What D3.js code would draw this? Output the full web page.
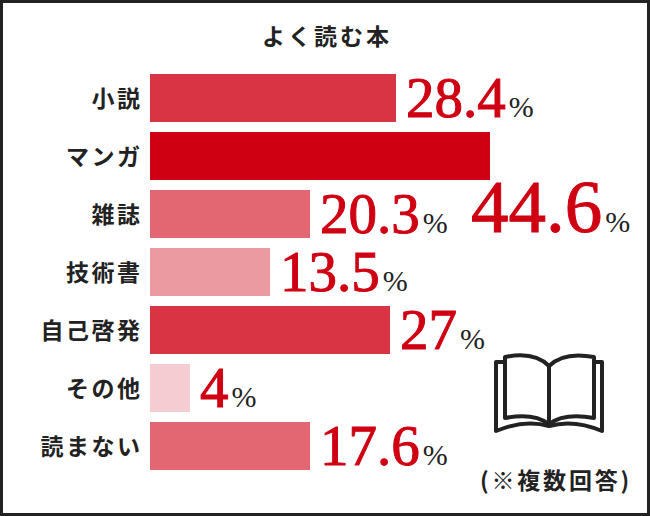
<!DOCTYPE html>
<html lang="ja">
<head>
<meta charset="utf-8">
<script src="https://cdn.jsdelivr.net/npm/d3@7"></script>
<style>
  html, body { margin: 0; padding: 0; background: #fff; }
  svg { display: block; }
</style>
</head>
<body>
<div id="container"></div>
<script>
let w = 650;
let h = 516;
let ink = "#222222";
let jpFont = "'Noto Sans CJK JP', 'Noto Sans', sans-serif";
let numFont = "'Liberation Serif', serif";

let categories = ["小説", "マンガ", "雑誌", "技術書", "自己啓発", "その他", "読まない"];
let percents = ["28.4", "44.6", "20.3", "13.5", "27", "4", "17.6"];
// the bars are not drawn in proportion to the printed numbers, so this is what the bars show
let barValues = [30.75, 42.5, 20, 15, 30, 5, 20];

let viz = d3.select("#container")
  .append("svg")
    .attr("width", w)
    .attr("height", h)
    .style("background-color", "white")
;

viz.append("rect") // frame
  .attr("x", 1.5)
  .attr("y", 1.5)
  .attr("width", w - 3)
  .attr("height", h - 3)
  .attr("fill", "none")
  .attr("stroke", ink)
  .attr("stroke-width", 3)
;

let xScale = d3.scaleLinear().domain([0, 50]).range([150, 550]);
let yScale = d3.scaleBand().domain(categories).range([74, 470]).paddingInner(10 / 58);
let colorScale = d3.scaleThreshold()
  .domain([10, 17, 25, 40])
  .range(["#f5ccd2", "#ec9aa2", "#e26772", "#d93444", "#cf0012"])
;

viz.append("text") // title
  .text("よく読む本")
  .attr("x", 327)
  .attr("y", 45)
  .attr("text-anchor", "middle")
  .attr("font-family", jpFont)
  .attr("font-weight", 700)
  .attr("font-size", 23)
  .attr("letter-spacing", 3)
  .attr("fill", ink)
;

let rows = viz.selectAll(".row").data(categories).enter()
  .append("g")
    .attr("class", "row")
;

rows.append("rect")
  .attr("x", xScale(0))
  .attr("y", d => yScale(d))
  .attr("width", (d, i) => xScale(barValues[i]) - xScale(0))
  .attr("height", yScale.bandwidth())
  .attr("fill", (d, i) => colorScale(barValues[i]))
;

rows.append("text") // category label
  .text(d => d)
  .attr("x", 142.5)
  .attr("y", d => yScale(d) + yScale.bandwidth() / 2 + 9)
  .attr("text-anchor", "end")
  .attr("font-family", jpFont)
  .attr("font-weight", 700)
  .attr("font-size", 23)
  .attr("letter-spacing", 2.5)
  .attr("fill", ink)
;

// the largest number does not fit next to its bar, it sits bigger and lower
function isBiggest(i) {
  return +percents[i] === d3.max(percents, d => +d);
}

let valueLabels = rows.append("text")
  .attr("x", (d, i) => isBiggest(i) ? 471 : xScale(barValues[i]) + 10)
  .attr("y", (d, i) => isBiggest(i) ? 232 : yScale(d) + yScale.bandwidth() / 2 + 19)
  .attr("font-family", numFont)
;

valueLabels.append("tspan")
  .text((d, i) => percents[i])
  .attr("font-size", (d, i) => isBiggest(i) ? 75 : 57)
  .attr("fill", "#cf0012")
  .attr("stroke", "#cf0012")
  .attr("stroke-width", 1)
;

valueLabels.append("tspan")
  .text("%")
  .attr("dx", 3)
  .attr("font-size", 30)
  .attr("fill", ink)
;

let book = viz.append("g") // book icon
  .attr("fill", "none")
  .attr("stroke", ink)
  .attr("stroke-width", 4)
  .attr("stroke-linejoin", "round")
;

book.append("path") // back cover
  .attr("d", "M505 362 H496 V431 Q525 419 549 426 Q574 419 602 431 V362 H594")
;
book.append("path") // pages
  .attr("d", "M549 366 C537 354 520 354 505 357 V418 C520 415 537 415 549 424 C561 415 578 415 594 418 V357 C578 354 561 354 549 366 V424")
;

viz.append("text") // note
  .text("(※複数回答)")
  .attr("x", 556)
  .attr("y", 489)
  .attr("text-anchor", "middle")
  .attr("font-family", jpFont)
  .attr("font-weight", 700)
  .attr("font-size", 23)
  .attr("letter-spacing", 2.8)
  .attr("fill", ink)
;
</script>
</body>
</html>
